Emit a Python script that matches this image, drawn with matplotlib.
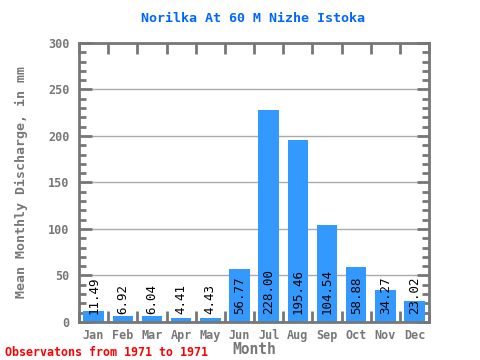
import matplotlib
matplotlib.use("Agg")
import matplotlib.pyplot as plt
import numpy as np

# ── Data ──────────────────────────────────────────────────────────────────────
months = ["Jan", "Feb", "Mar", "Apr", "May", "Jun",
          "Jul", "Aug", "Sep", "Oct", "Nov", "Dec"]
discharge = [11.49, 6.92, 6.04, 4.41, 4.43, 56.77,
             228.00, 195.46, 104.54, 58.88, 34.27, 23.02]
y_ticks = [0, 50, 100, 150, 200, 250, 300]

# ── Style ─────────────────────────────────────────────────────────────────────
BAR_COLOR = "#3399FF"
AXIS_COLOR = "#777777"
GRID_COLOR = "#AAAAAA"
MONO = "DejaVu Sans Mono"

fig = plt.figure(figsize=(4.8, 3.6), dpi=100)
ax = fig.add_axes([0.1646, 0.1056, 0.7294, 0.775])

x = np.arange(len(months))
ax.bar(x, discharge, width=0.7, color=BAR_COLOR, zorder=2)

for xi, v in zip(x, discharge):
    ax.text(xi, 9, f"{v:.2f}", rotation=90, ha="center", va="bottom",
            fontsize=9, family=MONO, color="black", zorder=3)

ax.set_xlim(-0.5, len(months) - 0.5)
ax.set_ylim(0, 300)

ax.set_yticks(y_ticks)
ax.set_yticks(np.arange(0, 301, 10), minor=True)
ax.set_xticks(x)
ax.set_xticks(np.arange(-0.5, len(months), 1.0), minor=True)
ax.set_xticklabels(months)

ax.yaxis.grid(True, color=GRID_COLOR, linewidth=1, zorder=0)
ax.set_axisbelow(True)

for sp in ax.spines.values():
    sp.set_color(AXIS_COLOR)
    sp.set_linewidth(2)

ax.tick_params(axis="x", which="major", length=0, pad=5,
               labelsize=8.5, labelcolor=AXIS_COLOR)
ax.tick_params(axis="x", which="minor", direction="in", length=8, width=2,
               color=AXIS_COLOR, top=True, bottom=True)
ax.tick_params(axis="y", which="major", direction="in", length=9, width=2,
               color=AXIS_COLOR, labelsize=8.5, labelcolor=AXIS_COLOR,
               left=True, right=True, pad=7)
ax.tick_params(axis="y", which="minor", direction="in", length=5, width=2,
               color=AXIS_COLOR, left=True, right=True)

for lab in ax.get_xticklabels() + ax.get_yticklabels():
    lab.set_family(MONO)
    lab.set_fontweight("bold")

ax.set_xlabel("Month", family=MONO, fontweight="bold", fontsize=10.5,
              color=AXIS_COLOR, labelpad=0)
ax.set_ylabel("Mean Monthly Discharge, in mm", family=MONO, fontweight="bold",
              fontsize=9.5, color=AXIS_COLOR, labelpad=14)

fig.text(0.527, 0.95, "Norilka At 60 M Nizhe Istoka", ha="center", va="center",
         family=MONO, fontweight="bold", fontsize=9.6, color="#0066FF")
fig.text(0.01, 0.022, "Observatons from 1971 to 1971", ha="left", va="center",
         family=MONO, fontweight="bold", fontsize=8.4, color="red")

fig.savefig("out.png", dpi=100)
